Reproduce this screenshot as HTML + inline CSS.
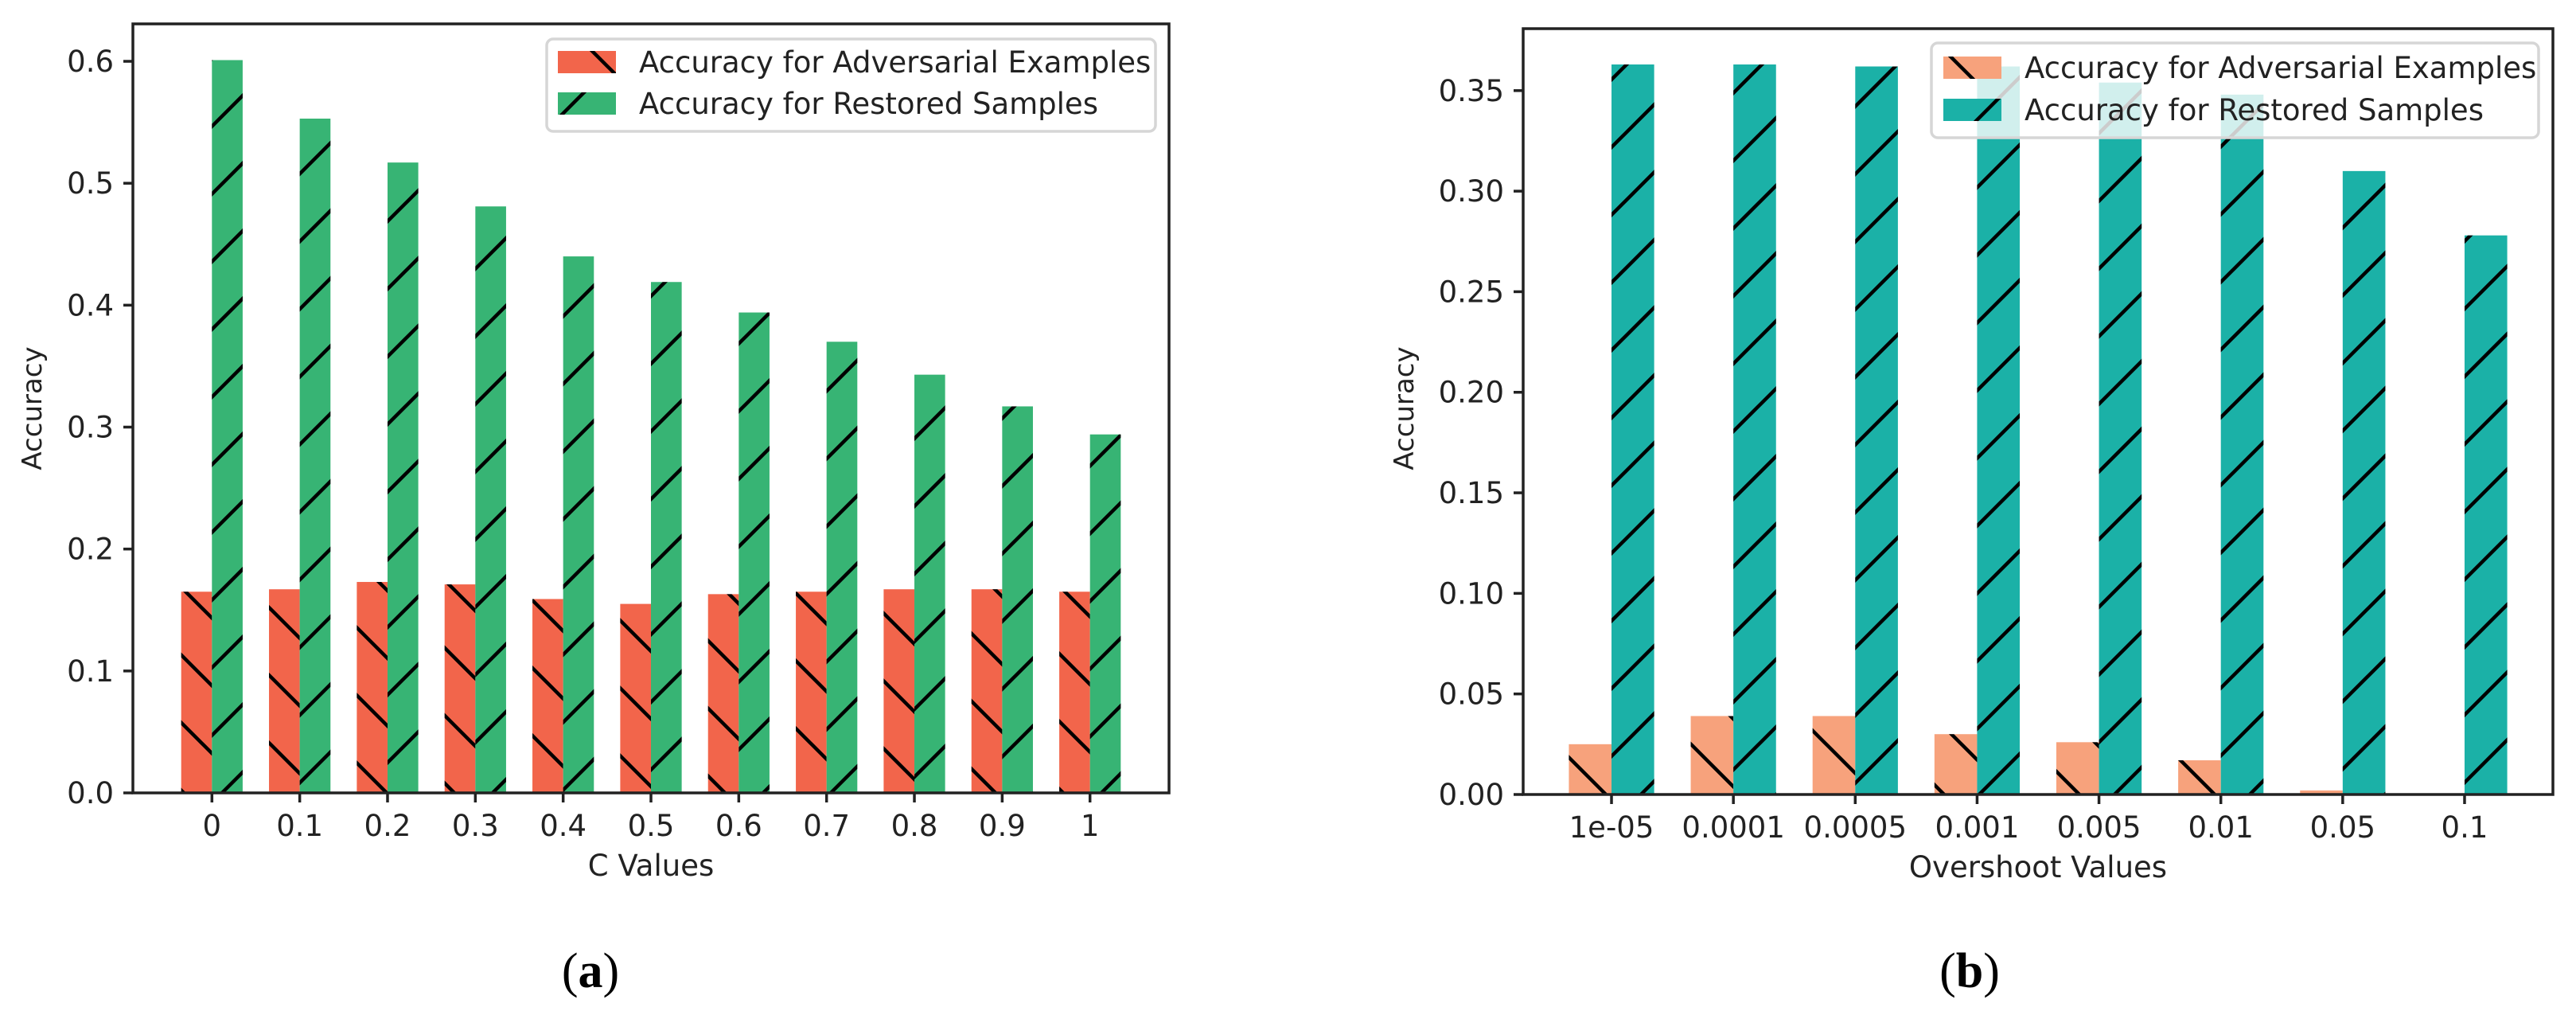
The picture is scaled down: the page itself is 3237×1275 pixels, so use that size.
<!DOCTYPE html>
<html><head><meta charset="utf-8"><style>
html,body{margin:0;padding:0;background:#fff;}
svg{display:block;font-family:"DejaVu Sans","Liberation Sans",sans-serif;}
</style></head><body>
<svg id="fig" width="3237" height="1275" viewBox="0 0 3237 1275" xmlns="http://www.w3.org/2000/svg">
<defs>
<pattern id="hf" patternUnits="userSpaceOnUse" width="85" height="85"><path d="M-10,95 L95,-10 M-95,95 L95,-95 M-10,180 L180,-10" stroke="#000" stroke-width="4.5"/></pattern>
<pattern id="hb" patternUnits="userSpaceOnUse" width="85" height="85"><path d="M-10,-10 L95,95 M-95,-10 L95,180 M-10,-95 L180,95" stroke="#000" stroke-width="4.5"/></pattern>
</defs>
<g id="chartA"></g>
<g id="chartB"></g>
<text x="742" y="1240" text-anchor="middle" font-family="Liberation Serif, serif" font-size="62">(<tspan font-weight="bold">a</tspan>)</text>
<text x="2475" y="1240" text-anchor="middle" font-family="Liberation Serif, serif" font-size="62">(<tspan font-weight="bold">b</tspan>)</text>
</svg>
<script>
const catsA = ["0","0.1","0.2","0.3","0.4","0.5","0.6","0.7","0.8","0.9","1"];
const advA = [0.165,0.167,0.173,0.171,0.159,0.155,0.163,0.165,0.167,0.167,0.165];
const resA = [0.601,0.553,0.517,0.481,0.440,0.419,0.394,0.370,0.343,0.317,0.294];
const ticksA = [0,0.1,0.2,0.3,0.4,0.5,0.6];
const tickLabelsA = ["0.0","0.1","0.2","0.3","0.4","0.5","0.6"];
const catsB = ["1e-05","0.0001","0.0005","0.001","0.005","0.01","0.05","0.1"];
const advB = [0.025,0.039,0.039,0.030,0.026,0.017,0.002,0.0];
const resB = [0.363,0.363,0.362,0.362,0.354,0.348,0.310,0.278];
const ticksB = [0,0.05,0.10,0.15,0.20,0.25,0.30,0.35];
const tickLabelsB = ["0.00","0.05","0.10","0.15","0.20","0.25","0.30","0.35"];

const NS="http://www.w3.org/2000/svg";
function mk(parent,tag,attrs){const e=document.createElementNS(NS,tag);for(const k in attrs)e.setAttribute(k,attrs[k]);parent.appendChild(e);return e;}

function draw(g,cfg){
  const {L,R,T,B,ymax,margin,cats,adv,res,ticks,tlabels,c1,c2,xlabel,leg,ylabX}=cfg;
  const n=cats.length;
  const unit=(R-L)/(n-1+2*margin);
  const x=i=>L+(margin+i)*unit;
  const y=v=>B-(v/ymax)*(B-T);
  const bw=unit*0.35;
  for(let i=0;i<n;i++){
    [[adv,c1,"hb",-1,"adv"],[res,c2,"hf",0,"res"]].forEach(([arr,col,pat,off,nm])=>{
      const x0=x(i)+off*bw, y0=y(arr[i]), h=B-y0;
      const r=mk(g,"rect",{x:x0,y:y0,width:bw,height:Math.max(h,0),fill:col});
      
      
      const p=mk(g,"rect",{x:x0,y:y0,width:bw,height:Math.max(h,0),fill:"url(#"+pat+")"});
      
      
    });
  }
  const frame=mk(g,"rect",{x:L,y:T,width:R-L,height:B-T,fill:"none",stroke:"#222",'stroke-width':3.5});
  
  
  ticks.forEach((t,k)=>{
    mk(g,"line",{x1:L-12,x2:L,y1:y(t),y2:y(t),stroke:"#222",'stroke-width':3.5});
    const tx=mk(g,"text",{x:L-24,y:y(t)+13,'text-anchor':'end','font-size':37,fill:"#222"});
    tx.textContent=tlabels[k];
    
    
  });
  cats.forEach((c,i)=>{
    mk(g,"line",{x1:x(i),x2:x(i),y1:B,y2:B+12,stroke:"#222",'stroke-width':3.5});
    const tx=mk(g,"text",{x:x(i),y:B+54,'text-anchor':'middle','font-size':37,fill:"#222"});
    tx.textContent=c;
    
    
  });
  const xl=mk(g,"text",{x:(L+R)/2,y:B+104,'text-anchor':'middle','font-size':37,fill:"#222"});
  xl.textContent=xlabel;
  
  
  const yl=mk(g,"text",{x:ylabX,y:513,'text-anchor':'middle','font-size':34,fill:"#222",transform:`rotate(-90 ${ylabX} 513)`});
  yl.textContent="Accuracy";
  
  
  const lg=mk(g,"g",{});
  
  
  mk(lg,"rect",{x:leg.x,y:leg.y,width:leg.w,height:leg.h,rx:8,fill:"rgba(255,255,255,0.8)",stroke:"#d6d6d6",'stroke-width':3.5});
  [[c1,"hb","Accuracy for Adversarial Examples",leg.r1],[c2,"hf","Accuracy for Restored Samples",leg.r2]].forEach(([col,pat,lab,cy])=>{
    mk(lg,"rect",{x:leg.px,y:cy-14,width:73,height:28,fill:col});
    mk(lg,"rect",{x:leg.px,y:cy-14,width:73,height:28,fill:"url(#"+pat+")"});
    const t=mk(lg,"text",{x:leg.tx,y:cy+13,'font-size':37,fill:"#222"});
    t.textContent=lab;
    
    
  });
}
draw(document.getElementById("chartA"),{L:167,R:1469,T:30,B:996,ymax:0.6307,margin:0.9,cats:catsA,adv:advA,res:resA,ticks:ticksA,tlabels:tickLabelsA,c1:"#f2654b",c2:"#37b474",xlabel:"C Values",ylabX:52,
  leg:{x:687,y:49,w:765,h:116,px:701,tx:803,r1:78,r2:130}});
draw(document.getElementById("chartB"),{L:1914,R:3208,T:36,B:998,ymax:0.3808,margin:0.725,cats:catsB,adv:advB,res:resB,ticks:ticksB,tlabels:tickLabelsB,c1:"#f7a27c",c2:"#1bb1a7",xlabel:"Overshoot Values",ylabX:1776,
  leg:{x:2427,y:54,w:763,h:119,px:2442,tx:2544,r1:85,r2:138}});
</script>
</body></html>
